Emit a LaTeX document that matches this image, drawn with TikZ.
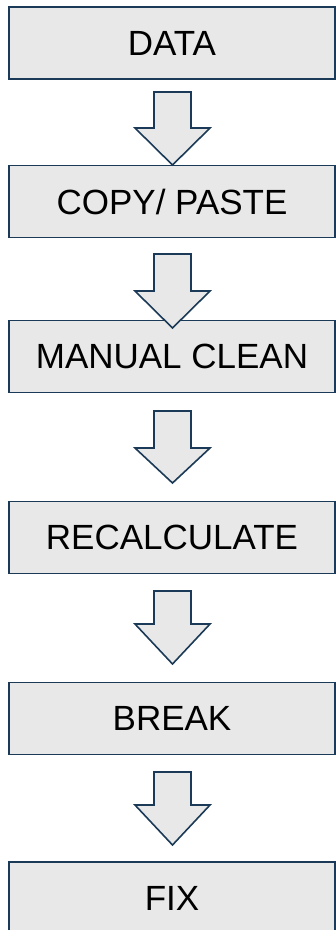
\documentclass[tikz,border=0pt]{standalone}
\usepackage{fontspec}
\setmainfont{Liberation Sans}
\definecolor{boxfill}{HTML}{E8E8E8}
\definecolor{boxline}{HTML}{1B3A57}
\begin{document}
\begin{tikzpicture}[x=1pt,y=-1pt,
  stepbox/.style={draw=boxline, fill=boxfill, line width=1.6pt, minimum width=326pt, minimum height=72pt, inner sep=0pt, font=\fontsize{35}{38}\selectfont, text=black},
  downarrow/.style={draw=boxline, fill=boxfill, line width=1.6pt, line join=miter}]
\useasboundingbox (0,0) rectangle (336,930);
\clip (0,0) rectangle (336,930);
\node[stepbox] (b1) at (172,43) {DATA};
\node[stepbox] (b2) at (172,201.5) {COPY/ PASTE};
\node[stepbox] (b3) at (172,356.5) {MANUAL CLEAN};
\node[stepbox] (b4) at (172,537.5) {RECALCULATE};
\node[stepbox] (b5) at (172,718.5) {BREAK};
\node[stepbox] (b6) at (172,898) {FIX};
% arrows: top, head, tip
\foreach \t/\h/\p in {92/128/165, 254/291/328, 411/448/483, 591/624/664, 772/805/845}{
  \draw[downarrow] (154,\t) -- (191,\t) -- (191,\h) -- (210,\h) -- (172.5,\p) -- (135,\h) -- (154,\h) -- cycle;
}
\end{tikzpicture}
\end{document}
